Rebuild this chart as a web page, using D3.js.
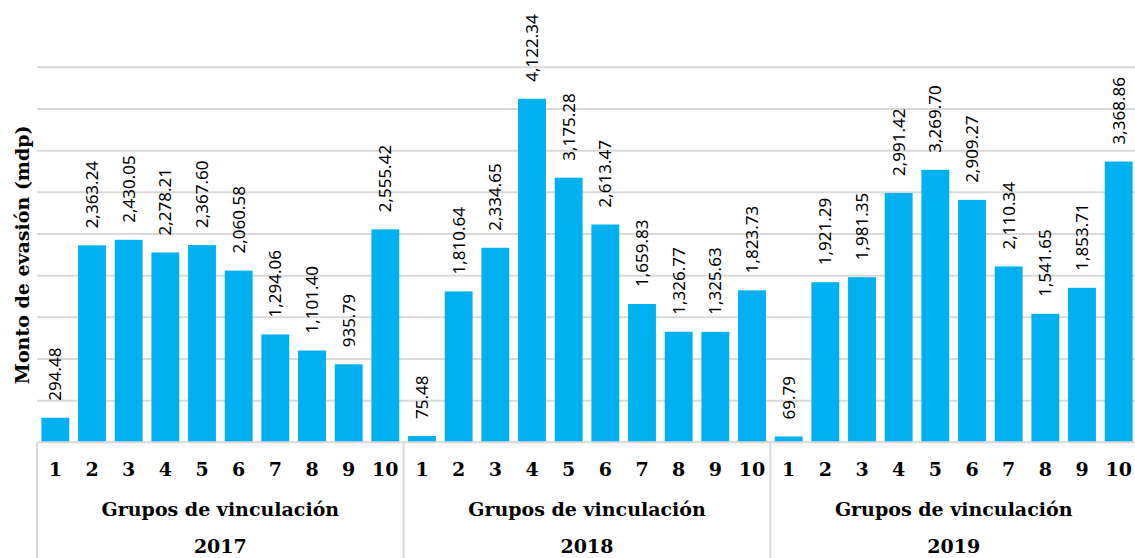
<!DOCTYPE html>
<html>
<head>
<meta charset="utf-8">
<script src="https://cdn.jsdelivr.net/npm/d3@7"></script>
<style>
  html, body { margin: 0; padding: 0; background: #fff; }
  svg { display: block; }
</style>
</head>
<body>
<svg id="chart" width="1135" height="558"></svg>
<script>
// Groups and values (millions of pesos)
const years = ["2017", "2018", "2019"];
const groups = ["1", "2", "3", "4", "5", "6", "7", "8", "9", "10"];
const values2017 = [294.48, 2363.24, 2430.05, 2278.21, 2367.60, 2060.58, 1294.06, 1101.40, 935.79, 2555.42];
const values2018 = [75.48, 1810.64, 2334.65, 4122.34, 3175.28, 2613.47, 1659.83, 1326.77, 1325.63, 1823.73];
const values2019 = [69.79, 1921.29, 1981.35, 2991.42, 3269.70, 2909.27, 2110.34, 1541.65, 1853.71, 3368.86];
const yTicks = [0, 500, 1000, 1500, 2000, 2500, 3000, 3500, 4000, 4500];
const groupTitle = "Grupos de vinculación";
const yTitle = "Monto de evasión (mdp)";

const seriesByYear = [values2017, values2018, values2019];
const rows = [];
years.forEach((yr, i) => {
  groups.forEach((g, j) => {
    rows.push({ key: yr + "-" + g, year: yr, group: g, value: seriesByYear[i][j] });
  });
});

const svg = d3.select("#chart");
const plotLeft = 37, plotRight = 1137, plotTop = 67.3, plotBottom = 442.3;
const serif = "'DejaVu Serif', 'Liberation Serif', serif";
const sans = "'Noto Sans', 'Open Sans', sans-serif";

const x = d3.scaleBand()
  .domain(rows.map(d => d.key))
  .range([plotLeft, plotRight])
  .paddingInner(0.24)
  .paddingOuter(0.12);

const y = d3.scaleLinear().domain([0, 4500]).range([plotBottom, plotTop]);

// horizontal gridlines
svg.append("g")
  .selectAll("line")
  .data(yTicks.slice(1))
  .join("line")
  .attr("x1", plotLeft).attr("x2", plotRight)
  .attr("y1", d => y(d))
  .attr("y2", d => y(d))
  .attr("stroke", "#d9d9d9")
  .attr("stroke-width", 2);

// bars
svg.append("g")
  .selectAll("rect")
  .data(rows)
  .join("rect")
  .attr("x", d => x(d.key))
  .attr("width", x.bandwidth())
  .attr("y", d => y(d.value))
  .attr("height", d => plotBottom - y(d.value))
  .attr("fill", "#00b0f0");

// value labels, rotated
const fmt = d3.format(",.2f");
svg.append("g")
  .selectAll("text")
  .data(rows)
  .join("text")
  .attr("transform", d => `translate(${x(d.key) + x.bandwidth() / 2 + 6},${y(d.value) - 17}) rotate(-90)`)
  .attr("font-family", sans)
  .attr("font-size", 17)
  .attr("fill", "#000")
  .text(d => fmt(d.value));

// category axis baseline
svg.append("line")
  .attr("x1", plotLeft).attr("x2", plotRight)
  .attr("y1", plotBottom).attr("y2", plotBottom)
  .attr("stroke", "#d9d9d9").attr("stroke-width", 2);

// group separators
const groupWidth = (plotRight - plotLeft) / years.length;
svg.append("g")
  .selectAll("line")
  .data(d3.range(years.length + 1))
  .join("line")
  .attr("x1", i => plotLeft + i * groupWidth)
  .attr("x2", i => plotLeft + i * groupWidth)
  .attr("y1", plotBottom)
  .attr("y2", 558)
  .attr("stroke", "#d9d9d9")
  .attr("stroke-width", 2);

// group tick labels
svg.append("g")
  .selectAll("text")
  .data(rows)
  .join("text")
  .attr("x", d => x(d.key) + x.bandwidth() / 2)
  .attr("y", 476)
  .attr("text-anchor", "middle")
  .attr("font-family", serif)
  .attr("font-weight", "bold")
  .attr("font-size", 19)
  .attr("fill", "#000")
  .text(d => d.group);

// group titles and years
const yearG = svg.append("g")
  .selectAll("g")
  .data(years)
  .join("g")
  .attr("transform", (d, i) => `translate(${plotLeft + (i + 0.5) * groupWidth},0)`);

yearG.append("text")
  .attr("y", 516)
  .attr("text-anchor", "middle")
  .attr("font-family", serif)
  .attr("font-weight", "bold")
  .attr("font-size", 19)
  .text(groupTitle);

yearG.append("text")
  .attr("y", 553)
  .attr("text-anchor", "middle")
  .attr("font-family", serif)
  .attr("font-weight", "bold")
  .attr("font-size", 19)
  .text(d => d);

// y axis title
svg.append("text")
  .attr("transform", `translate(29,${(plotTop + plotBottom) / 2}) rotate(-90)`)
  .attr("text-anchor", "middle")
  .attr("font-family", serif)
  .attr("font-weight", "bold")
  .attr("font-size", 19)
  .text(yTitle);
</script>
</body>
</html>
